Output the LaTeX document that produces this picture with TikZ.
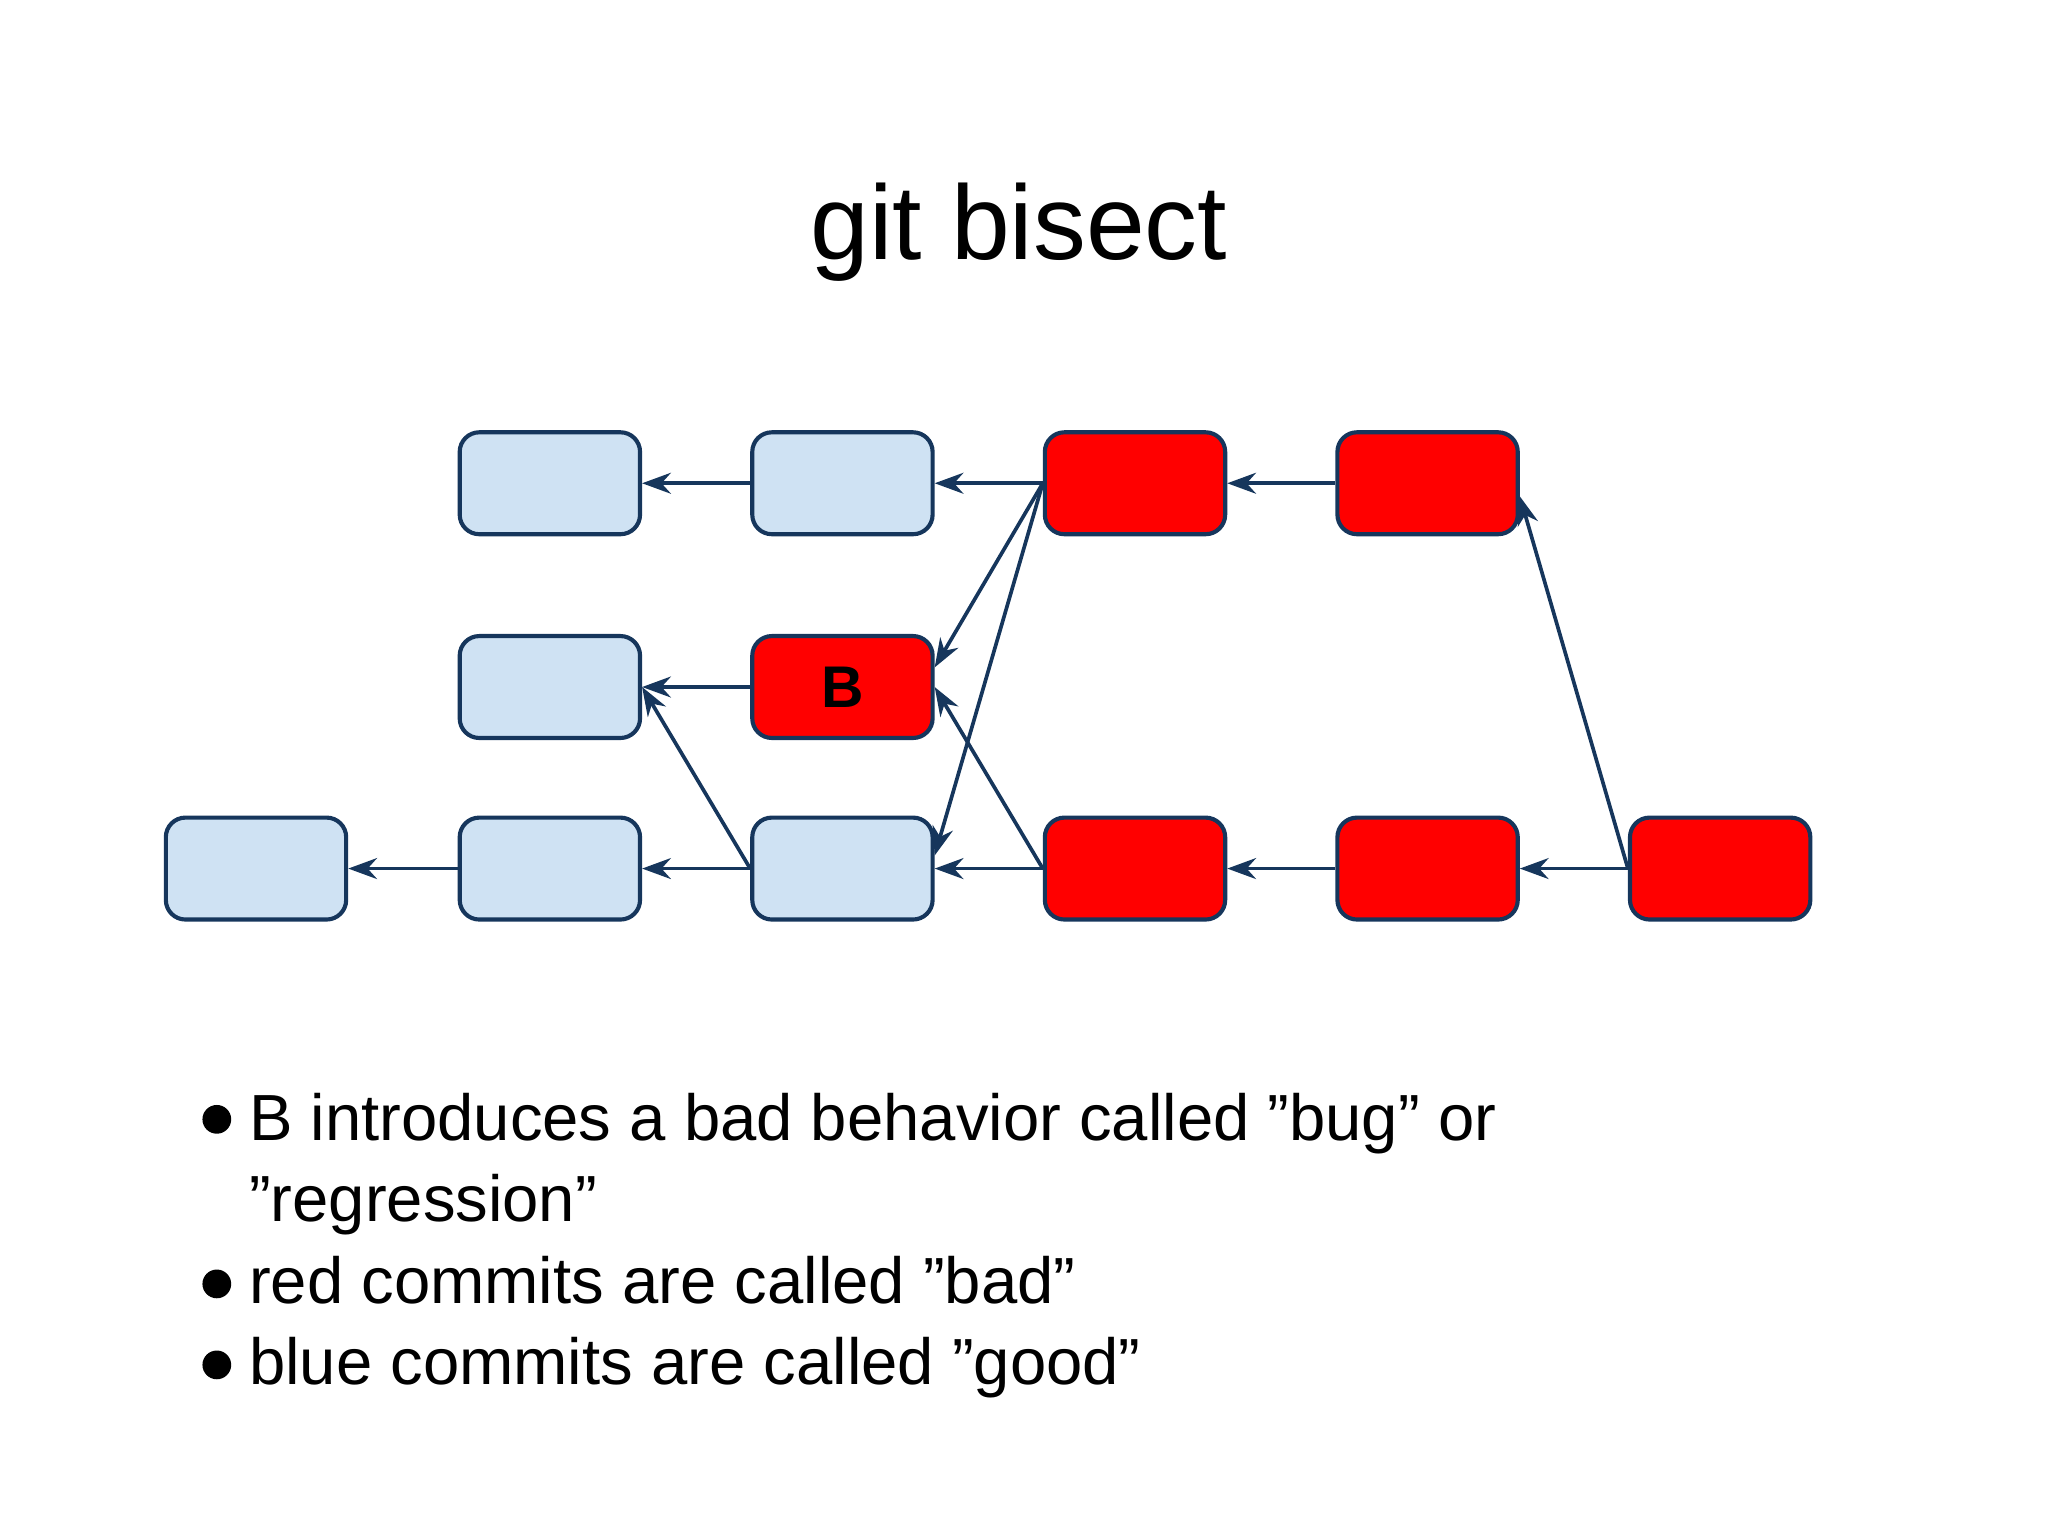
\documentclass[tikz,border=0pt]{standalone}
\usepackage{fontspec}
\setmainfont{Liberation Sans}
\usetikzlibrary{positioning, arrows.meta}
\definecolor{goodcol}{RGB}{207,226,243}
\definecolor{badcol}{RGB}{255,0,0}
\definecolor{linecol}{RGB}{22,54,92}

\begin{document}
\begin{tikzpicture}[
			x=0.01cm, y=-0.01cm,
			commit/.style={
				draw=linecol,
				rounded corners=1.5mm,
				minimum width=1.38cm,
				minimum height=0.78cm,
				line width=0.9pt
			},
			good/.style={commit, fill=goodcol},
			bad/.style={commit, fill=badcol},
			parent/.style={
				draw=linecol,
				-{Stealth[length=2.2mm,width=1.6mm]},
				line width=0.8pt
			},
			dot/.style={circle, fill=black, inner sep=0pt, minimum size=2.2mm},
			item/.style={anchor=base west, inner sep=0pt, font=\fontsize{14.2}{17}\selectfont}
			]
			\useasboundingbox (0,0) rectangle (1568,1176);
			% Title
			\node (title) at (780,178) {\fontsize{23}{28}\selectfont git bisect};
			
			% Commits
			\node[good] (a1) at (421,370) {};
			\node[good] (a2) at (645,370) {};
			\node[bad] (a3) at (869,370) {};
			\node[bad] (a4) at (1093,370) {};
			\node[good] (m1) at (421,526) {};
			\node[bad] (bug) at (645,526) {\fontsize{12.8}{15}\selectfont\bfseries B};
			\node[good] (c0) at (196,665) {};
			\node[good] (c1) at (421,665) {};
			\node[good] (c2) at (645,665) {};
			\node[bad] (c3) at (869,665) {};
			\node[bad] (c4) at (1093,665) {};
			\node[bad] (c5) at (1317,665) {};
			
			% Parents
			\draw[parent] (a2.west) -- (a1.east);
			\draw[parent] (a3.west) -- (a2.east);
			\draw[parent] (a4.west) -- (a3.east);
			\draw[parent] (bug.west) -- (m1.east);
			\draw[parent] (c1.west) -- (c0.east);
			\draw[parent] (c2.west) -- (c1.east);
			\draw[parent] (c3.west) -- (c2.east);
			\draw[parent] (c4.west) -- (c3.east);
			\draw[parent] (c5.west) -- (c4.east);
			\draw[parent] (a3.west) -- ([yshift=1.5mm]bug.east);
			\draw[parent] (a3.west) -- ([yshift=1mm]c2.east);
			\draw[parent] (c3.west) -- (bug.east);
			\draw[parent] (c2.west) -- (m1.east);
			\draw[parent] (c5.west) -- ([yshift=-1mm]a4.east);
			
			% Notes
			\node[dot] (b1) at (166,857) {};
			\node[item] (t1) at (190,873) {B introduces a bad behavior called "bug" or};
			\node[item] (t2) at (190,935) {"regression"};
			\node[dot] (b2) at (166,983) {};
			\node[item] (t3) at (190,998) {red commits are called "bad"};
			\node[dot] (b3) at (166,1045) {};
			\node[item] (t4) at (190,1060) {blue commits are called "good"};
		\end{tikzpicture}
\end{document}
